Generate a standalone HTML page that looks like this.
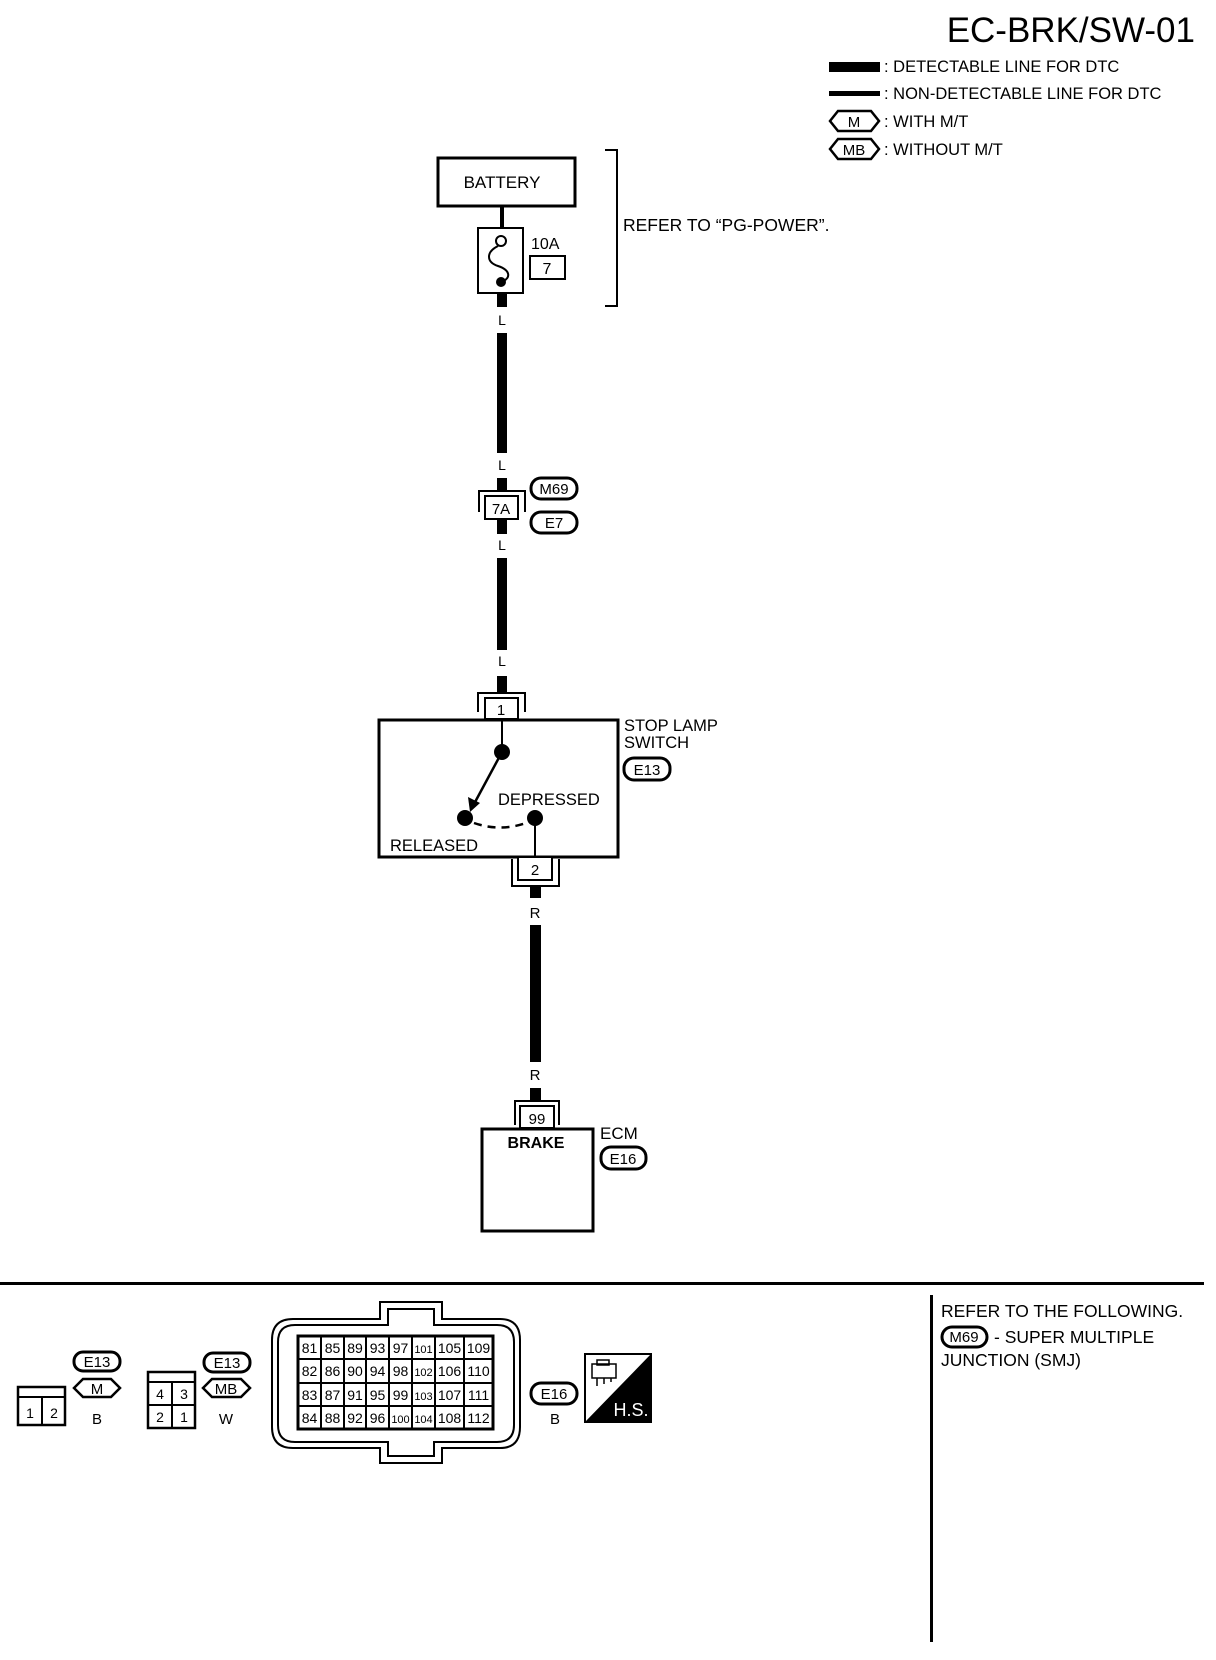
<!DOCTYPE html>
<html><head><meta charset="utf-8"><style>
html,body{margin:0;padding:0;background:#fff}
svg{display:block}
text{font-family:"Liberation Sans",Arial,sans-serif;fill:#000}
</style></head><body>
<svg width="1216" height="1660" viewBox="0 0 1216 1660" xmlns="http://www.w3.org/2000/svg">
<text x="1195" y="42" font-size="35" text-anchor="end">EC-BRK/SW-01</text>
<rect x="829" y="62" width="51" height="10" fill="#000"/>
<text x="884" y="72" font-size="16.5">: DETECTABLE LINE FOR DTC</text>
<rect x="829" y="91" width="51" height="5" fill="#000"/>
<text x="884" y="99" font-size="16.5">: NON-DETECTABLE LINE FOR DTC</text>
<polygon points="830,121 838,111 871,111 879,121 871,131 838,131" fill="none" stroke="#000" stroke-width="2.5"/>
<text x="854" y="127" font-size="15" text-anchor="middle">M</text>
<text x="884" y="127" font-size="16.5">: WITH M/T</text>
<polygon points="830,149 838,139 871,139 879,149 871,159 838,159" fill="none" stroke="#000" stroke-width="2.5"/>
<text x="854" y="155" font-size="15" text-anchor="middle">MB</text>
<text x="884" y="155" font-size="16.5">: WITHOUT M/T</text>

<rect x="438" y="158" width="137" height="48" fill="none" stroke="#000" stroke-width="3"/>
<text x="502" y="188" font-size="17" text-anchor="middle">BATTERY</text>
<line x1="502" y1="206" x2="502" y2="228" stroke="#000" stroke-width="4"/>
<rect x="478" y="228" width="45" height="65" fill="none" stroke="#000" stroke-width="2"/>
<circle cx="501" cy="241" r="5" fill="#fff" stroke="#000" stroke-width="2"/>
<path d="M498,246 C486,252 486,262 498,266 C510,270 512,278 501,282" fill="none" stroke="#000" stroke-width="2"/>
<circle cx="501" cy="282" r="5" fill="#000"/>
<text x="531" y="249" font-size="16">10A</text>
<rect x="530" y="256" width="35" height="23" fill="none" stroke="#000" stroke-width="2"/>
<text x="547" y="274" font-size="16" text-anchor="middle">7</text>
<polyline points="605,150 617,150 617,306 605,306" fill="none" stroke="#000" stroke-width="2"/>
<text x="623" y="231" font-size="17.5">REFER TO “PG-POWER”.</text>

<rect x="497" y="293" width="10" height="14" fill="#000"/>
<text x="502" y="325" font-size="14" text-anchor="middle">L</text>
<rect x="497" y="333" width="10" height="120" fill="#000"/>
<text x="502" y="470" font-size="14" text-anchor="middle">L</text>
<rect x="497" y="478" width="10" height="14" fill="#000"/>
<polyline points="479,512 479,491 525,491 525,512" fill="none" stroke="#000" stroke-width="2"/>
<rect x="485" y="496" width="33" height="23" fill="#fff" stroke="#000" stroke-width="2"/>
<text x="501" y="514" font-size="15" text-anchor="middle">7A</text>
<rect x="497" y="520" width="10" height="14" fill="#000"/>
<rect x="531" y="478" width="46" height="21" rx="10" fill="none" stroke="#000" stroke-width="3"/>
<text x="554" y="494" font-size="15" text-anchor="middle">M69</text>
<rect x="531" y="512" width="46" height="21" rx="10" fill="none" stroke="#000" stroke-width="3"/>
<text x="554" y="528" font-size="15" text-anchor="middle">E7</text>
<text x="502" y="550" font-size="14" text-anchor="middle">L</text>
<rect x="497" y="558" width="10" height="92" fill="#000"/>
<text x="502" y="666" font-size="14" text-anchor="middle">L</text>
<rect x="497" y="676" width="10" height="16" fill="#000"/>

<polyline points="478,712 478,693 525,693 525,712" fill="none" stroke="#000" stroke-width="2"/>
<rect x="485" y="698" width="33" height="21" fill="#fff" stroke="#000" stroke-width="2"/>
<text x="501" y="715" font-size="15" text-anchor="middle">1</text>
<rect x="379" y="720" width="239" height="137" fill="none" stroke="#000" stroke-width="3"/>
<line x1="502" y1="720" x2="502" y2="752" stroke="#000" stroke-width="2"/>
<circle cx="502" cy="752" r="8" fill="#000"/>
<line x1="502" y1="752" x2="474" y2="804" stroke="#000" stroke-width="2.5"/>
<polygon points="470,812 468,797 480,803" fill="#000"/>
<circle cx="465" cy="818" r="8" fill="#000"/>
<circle cx="535" cy="818" r="8" fill="#000"/>
<path d="M474,823 Q500,832 526,823" fill="none" stroke="#000" stroke-width="2.5" stroke-dasharray="8,6"/>
<line x1="535" y1="818" x2="535" y2="857" stroke="#000" stroke-width="2"/>
<text x="498" y="805" font-size="16.5">DEPRESSED</text>
<text x="390" y="851" font-size="16.5">RELEASED</text>
<text x="624" y="731" font-size="16.5">STOP LAMP</text>
<text x="624" y="748" font-size="16.5">SWITCH</text>
<rect x="624" y="758" width="46" height="22" rx="10" fill="none" stroke="#000" stroke-width="3"/>
<text x="647" y="775" font-size="15" text-anchor="middle">E13</text>
<polyline points="512,859 512,886 559,886 559,859" fill="none" stroke="#000" stroke-width="2"/>
<rect x="518" y="857" width="34" height="23" fill="#fff" stroke="#000" stroke-width="2"/>
<text x="535" y="875" font-size="15" text-anchor="middle">2</text>

<rect x="530" y="886" width="11" height="12" fill="#000"/>
<text x="535" y="918" font-size="15" text-anchor="middle">R</text>
<rect x="530" y="925" width="11" height="137" fill="#000"/>
<text x="535" y="1080" font-size="15" text-anchor="middle">R</text>
<rect x="530" y="1088" width="11" height="14" fill="#000"/>

<polyline points="515,1125 515,1101 559,1101 559,1125" fill="none" stroke="#000" stroke-width="2"/>
<rect x="520" y="1106" width="34" height="22" fill="#fff" stroke="#000" stroke-width="2"/>
<text x="537" y="1124" font-size="15" text-anchor="middle">99</text>
<rect x="482" y="1129" width="111" height="102" fill="none" stroke="#000" stroke-width="3"/>
<text x="536" y="1148" font-size="16" font-weight="bold" text-anchor="middle">BRAKE</text>
<text x="600" y="1139" font-size="17">ECM</text>
<rect x="601" y="1147" width="45" height="22" rx="10" fill="none" stroke="#000" stroke-width="3"/>
<text x="623" y="1164" font-size="15" text-anchor="middle">E16</text>

<rect x="0" y="1282" width="1204" height="3" fill="#000"/>
<rect x="930" y="1295" width="3" height="347" fill="#000"/>
<text x="941" y="1317" font-size="17.5">REFER TO THE FOLLOWING.</text>
<rect x="942" y="1327" width="45" height="20" rx="10" fill="none" stroke="#000" stroke-width="3"/>
<text x="964" y="1342" font-size="15" text-anchor="middle">M69</text>
<text x="994" y="1343" font-size="17.5">- SUPER MULTIPLE</text>
<text x="941" y="1366" font-size="17.5">JUNCTION (SMJ)</text>

<rect x="18" y="1387" width="47" height="38" fill="none" stroke="#000" stroke-width="2.5"/>
<line x1="18" y1="1397" x2="65" y2="1397" stroke="#000" stroke-width="2"/>
<line x1="42" y1="1397" x2="42" y2="1425" stroke="#000" stroke-width="2"/>
<text x="30" y="1418" font-size="14" text-anchor="middle">1</text>
<text x="54" y="1418" font-size="14" text-anchor="middle">2</text>
<rect x="74" y="1352" width="46" height="19" rx="9" fill="none" stroke="#000" stroke-width="3"/>
<text x="97" y="1367" font-size="15" text-anchor="middle">E13</text>
<polygon points="74,1388 83,1379 111,1379 120,1388 111,1397 83,1397" fill="none" stroke="#000" stroke-width="2.5"/>
<text x="97" y="1394" font-size="15" text-anchor="middle">M</text>
<text x="97" y="1424" font-size="15" text-anchor="middle">B</text>

<rect x="148" y="1372" width="47" height="56" fill="none" stroke="#000" stroke-width="2.5"/>
<line x1="148" y1="1382" x2="195" y2="1382" stroke="#000" stroke-width="2"/>
<line x1="148" y1="1405" x2="195" y2="1405" stroke="#000" stroke-width="2"/>
<line x1="172" y1="1382" x2="172" y2="1428" stroke="#000" stroke-width="2"/>
<text x="160" y="1399" font-size="14" text-anchor="middle">4</text>
<text x="184" y="1399" font-size="14" text-anchor="middle">3</text>
<text x="160" y="1422" font-size="14" text-anchor="middle">2</text>
<text x="184" y="1422" font-size="14" text-anchor="middle">1</text>
<rect x="204" y="1353" width="46" height="19" rx="9" fill="none" stroke="#000" stroke-width="3"/>
<text x="227" y="1368" font-size="15" text-anchor="middle">E13</text>
<polygon points="203,1388 212,1379 241,1379 250,1388 241,1397 212,1397" fill="none" stroke="#000" stroke-width="2.5"/>
<text x="226" y="1394" font-size="15" text-anchor="middle">MB</text>
<text x="226" y="1424" font-size="15" text-anchor="middle">W</text>

<path d="M380,1319 L380,1302 L442,1302 L442,1319 L500,1319 Q520,1319 520,1340 L520,1427 Q520,1448 500,1448 L442,1448 L442,1463 L380,1463 L380,1448 L293,1448 Q272,1448 272,1427 L272,1340 Q272,1319 293,1319 Z" fill="none" stroke="#000" stroke-width="2"/>
<path d="M388,1325 L388,1309 L434,1309 L434,1325 L497,1325 Q514,1325 514,1342 L514,1425 Q514,1442 497,1442 L434,1442 L434,1456 L388,1456 L388,1442 L295,1442 Q278,1442 278,1425 L278,1342 Q278,1325 295,1325 Z" fill="none" stroke="#000" stroke-width="2"/>
<rect x="298" y="1336" width="195" height="93" fill="none" stroke="#000" stroke-width="3"/>
<g stroke="#000" stroke-width="2">
<line x1="321" y1="1336" x2="321" y2="1429"/><line x1="344" y1="1336" x2="344" y2="1429"/>
<line x1="366" y1="1336" x2="366" y2="1429"/><line x1="389" y1="1336" x2="389" y2="1429"/>
<line x1="412" y1="1336" x2="412" y2="1429"/><line x1="435" y1="1336" x2="435" y2="1429"/>
<line x1="464" y1="1336" x2="464" y2="1429"/>
<line x1="298" y1="1359" x2="493" y2="1359"/><line x1="298" y1="1383" x2="493" y2="1383"/>
<line x1="298" y1="1406" x2="493" y2="1406"/>
</g>
<g font-size="14" text-anchor="middle">
<text x="309.5" y="1353">81</text><text x="332.5" y="1353">85</text><text x="355" y="1353">89</text><text x="377.5" y="1353">93</text><text x="400.5" y="1353">97</text><text x="423.5" y="1353" font-size="11">101</text><text x="449.5" y="1353">105</text><text x="478.5" y="1353">109</text>
<text x="309.5" y="1376">82</text><text x="332.5" y="1376">86</text><text x="355" y="1376">90</text><text x="377.5" y="1376">94</text><text x="400.5" y="1376">98</text><text x="423.5" y="1376" font-size="11">102</text><text x="449.5" y="1376">106</text><text x="478.5" y="1376">110</text>
<text x="309.5" y="1400">83</text><text x="332.5" y="1400">87</text><text x="355" y="1400">91</text><text x="377.5" y="1400">95</text><text x="400.5" y="1400">99</text><text x="423.5" y="1400" font-size="11">103</text><text x="449.5" y="1400">107</text><text x="478.5" y="1400">111</text>
<text x="309.5" y="1423">84</text><text x="332.5" y="1423">88</text><text x="355" y="1423">92</text><text x="377.5" y="1423">96</text><text x="400.5" y="1423" font-size="11">100</text><text x="423.5" y="1423" font-size="11">104</text><text x="449.5" y="1423">108</text><text x="478.5" y="1423">112</text>
</g>
<rect x="531" y="1383" width="46" height="21" rx="10" fill="none" stroke="#000" stroke-width="3"/>
<text x="554" y="1399" font-size="15" text-anchor="middle">E16</text>
<text x="555" y="1424" font-size="15" text-anchor="middle">B</text>

<rect x="585" y="1354" width="66" height="68" fill="#fff" stroke="#000" stroke-width="2"/>
<polygon points="585,1422 651,1354 651,1422" fill="#000"/>
<g fill="none" stroke="#000" stroke-width="1.5">
<rect x="592" y="1364" width="24" height="14"/>
<rect x="597" y="1360" width="12" height="5"/>
<line x1="597" y1="1378" x2="597" y2="1386"/><line x1="604" y1="1378" x2="604" y2="1384"/><line x1="611" y1="1378" x2="611" y2="1382"/>
</g>
<text x="631" y="1416" font-size="18" style="fill:#fff" text-anchor="middle">H.S.</text>
</svg>
</body></html>
